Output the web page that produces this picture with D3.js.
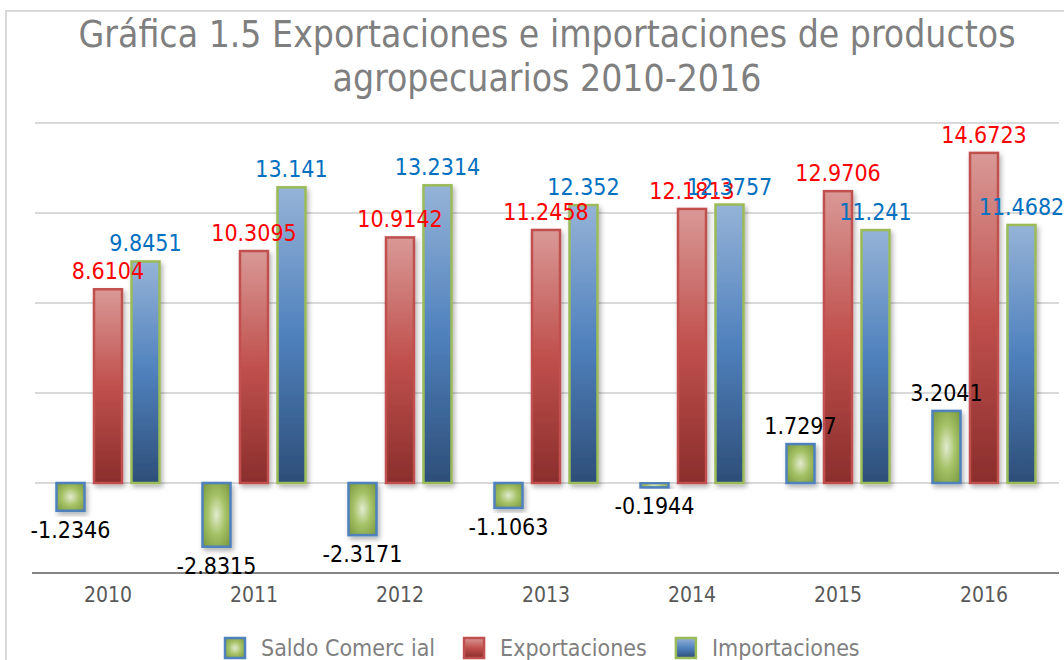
<!DOCTYPE html>
<html>
<head>
<meta charset="utf-8">
<script src="https://cdn.jsdelivr.net/npm/d3@7"></script>
<style>
  body { margin: 0; background: #fff; }
  svg { display: block; font-family: "DejaVu Sans Condensed", "DejaVu Sans", sans-serif; }
</style>
</head>
<body>
<div id="chart"></div>
<script>
/*---------- DATA ----------*/
let years = ["2010", "2011", "2012", "2013", "2014", "2015", "2016"];
let seriesNames = ["Saldo Comerc ial", "Exportaciones", "Importaciones"];
let saldo = [-1.2346, -2.8315, -2.3171, -1.1063, -0.1944, 1.7297, 3.2041];
let exportaciones = [8.6104, 10.3095, 10.9142, 11.2458, 12.1813, 12.9706, 14.6723];
let importaciones = [9.8451, 13.141, 13.2314, 12.352, 12.3757, 11.241, 11.4682];
let yTicks = [0, 4, 8, 12, 16];
let titleLines = [
  "Gráfica 1.5 Exportaciones e importaciones de productos",
  "agropecuarios 2010-2016",
];

/*---------- SETUP ----------*/
let width = 1064;
let height = 660;

let svg = d3
  .select("#chart")
  .append("svg")
  .attr("width", width)
  .attr("height", height);

let defs = svg.append("defs");

// Gradients for the three series
let gSaldo = defs
  .append("radialGradient")
  .attr("id", "g-saldo")
  .attr("cx", "50%")
  .attr("cy", "50%")
  .attr("r", "70%");
gSaldo.append("stop").attr("offset", "0%").attr("stop-color", "#e2ebcf");
gSaldo.append("stop").attr("offset", "45%").attr("stop-color", "#a6c267");
gSaldo.append("stop").attr("offset", "100%").attr("stop-color", "#76953b");

let gExp = defs
  .append("linearGradient")
  .attr("id", "g-exp")
  .attr("x1", 0).attr("y1", 0).attr("x2", 0).attr("y2", 1);
gExp.append("stop").attr("offset", "0%").attr("stop-color", "#d99996");
gExp.append("stop").attr("offset", "50%").attr("stop-color", "#c0504d");
gExp.append("stop").attr("offset", "100%").attr("stop-color", "#8a2e2c");

let gImp = defs
  .append("linearGradient")
  .attr("id", "g-imp")
  .attr("x1", 0).attr("y1", 0).attr("x2", 0).attr("y2", 1);
gImp.append("stop").attr("offset", "0%").attr("stop-color", "#95b3d7");
gImp.append("stop").attr("offset", "50%").attr("stop-color", "#4f81bd");
gImp.append("stop").attr("offset", "100%").attr("stop-color", "#2d4e78");

// Soft shadow under the bars
defs
  .append("filter")
  .attr("id", "shadow")
  .attr("x", "-30%").attr("y", "-10%")
  .attr("width", "160%").attr("height", "130%")
  .append("feDropShadow")
  .attr("dx", 2)
  .attr("dy", 3)
  .attr("stdDeviation", 2.5)
  .attr("flood-color", "#000")
  .attr("flood-opacity", 0.3);

let styles = [
  { fill: "url(#g-saldo)", stroke: "#4f81bd", label: "#000000" },
  { fill: "url(#g-exp)", stroke: "#c0504d", label: "#ff0000" },
  { fill: "url(#g-imp)", stroke: "#9bbb59", label: "#0070c0" },
];

// Outer chart border
svg
  .append("rect")
  .attr("x", 6)
  .attr("y", 11)
  .attr("width", 1100)
  .attr("height", 700)
  .attr("fill", "none")
  .attr("stroke", "#d9d9d9")
  .attr("stroke-width", 2);

/*---------- TITLE ----------*/
svg
  .append("g")
  .selectAll("text")
  .data(titleLines)
  .join("text")
  .attr("x", 547)
  .attr("y", (d, i) => 47 + i * 44)
  .attr("text-anchor", "middle")
  .attr("font-size", "37px")
  .attr("fill", "#7f7f7f")
  .text((d) => d);

/*---------- SCALES ----------*/
let x0 = d3.scaleBand().domain(years).range([35, 1057]);
let bw = x0.bandwidth();
let x1 = d3
  .scaleBand()
  .domain(seriesNames)
  .range([bw / 2 - 51.5, bw / 2 + 51.5])
  .paddingInner(0.253)
  .paddingOuter(0);
let y = d3.scaleLinear().domain([-4, 16]).range([573, 123]);

// Grid lines
svg
  .append("g")
  .selectAll("line")
  .data(yTicks)
  .join("line")
  .attr("x1", 35)
  .attr("x2", 1059)
  .attr("y1", (d) => y(d))
  .attr("y2", (d) => y(d))
  .attr("stroke", "#d9d9d9")
  .attr("stroke-width", 2);

// Category axis at the bottom
let xAxis = svg
  .append("g")
  .attr("transform", `translate(0, ${y(-4)})`)
  .call(d3.axisBottom(x0).tickSize(0).tickPadding(14));
xAxis.select(".domain").remove();
xAxis
  .append("line")
  .attr("x1", 32)
  .attr("x2", 1059)
  .attr("stroke", "#868686")
  .attr("stroke-width", 2);
xAxis
  .selectAll(".tick text")
  .attr("font-family", "DejaVu Sans Condensed, DejaVu Sans, sans-serif")
  .attr("font-size", "21px")
  .attr("fill", "#595959");

/*---------- BARS ----------*/
let rows = years.map((yr, i) => ({
  year: yr,
  values: [saldo[i], exportaciones[i], importaciones[i]],
}));

let groups = svg
  .append("g")
  .selectAll("g")
  .data(rows)
  .join("g")
  .attr("transform", (d) => `translate(${x0(d.year)}, 0)`);

groups
  .selectAll("rect")
  .data((d) => d.values.map((v, s) => ({ v: v, s: s })))
  .join("rect")
  .attr("x", (d) => x1(seriesNames[d.s]))
  .attr("width", x1.bandwidth())
  .attr("y", (d) => y(Math.max(0, d.v)))
  .attr("height", (d) => Math.abs(y(d.v) - y(0)))
  .attr("fill", (d) => styles[d.s].fill)
  .attr("stroke", (d) => styles[d.s].stroke)
  .attr("stroke-width", 2.5)
  .attr("filter", "url(#shadow)");

// Value labels
groups
  .selectAll("text.value")
  .data((d) => d.values.map((v, s) => ({ v: v, s: s })))
  .join("text")
  .attr("class", "value")
  .attr("x", (d) => x1(seriesNames[d.s]) + x1.bandwidth() / 2)
  .attr("y", (d) => (d.v >= 0 ? y(d.v) - 10 : y(d.v) + 27))
  .attr("text-anchor", "middle")
  .attr("font-size", "23px")
  .attr("fill", (d) => styles[d.s].label)
  .text((d) => d.v);

/*---------- LEGEND ----------*/
let legend = svg.append("g").attr("transform", "translate(0, 637)");
let lx = 224;
seriesNames.forEach((name, s) => {
  let item = legend.append("g").attr("transform", `translate(${lx}, 0)`);
  item
    .append("rect")
    .attr("x", 1)
    .attr("y", 1)
    .attr("width", 20)
    .attr("height", 20)
    .attr("fill", styles[s].fill)
    .attr("stroke", styles[s].stroke)
    .attr("stroke-width", 2.5);
  let t = item
    .append("text")
    .attr("x", 37)
    .attr("y", 19)
    .attr("font-size", "23px")
    .attr("fill", "#7f7f7f")
    .text(name);
  lx += 37 + t.node().getComputedTextLength() + 28;
});
</script>
</body>
</html>
